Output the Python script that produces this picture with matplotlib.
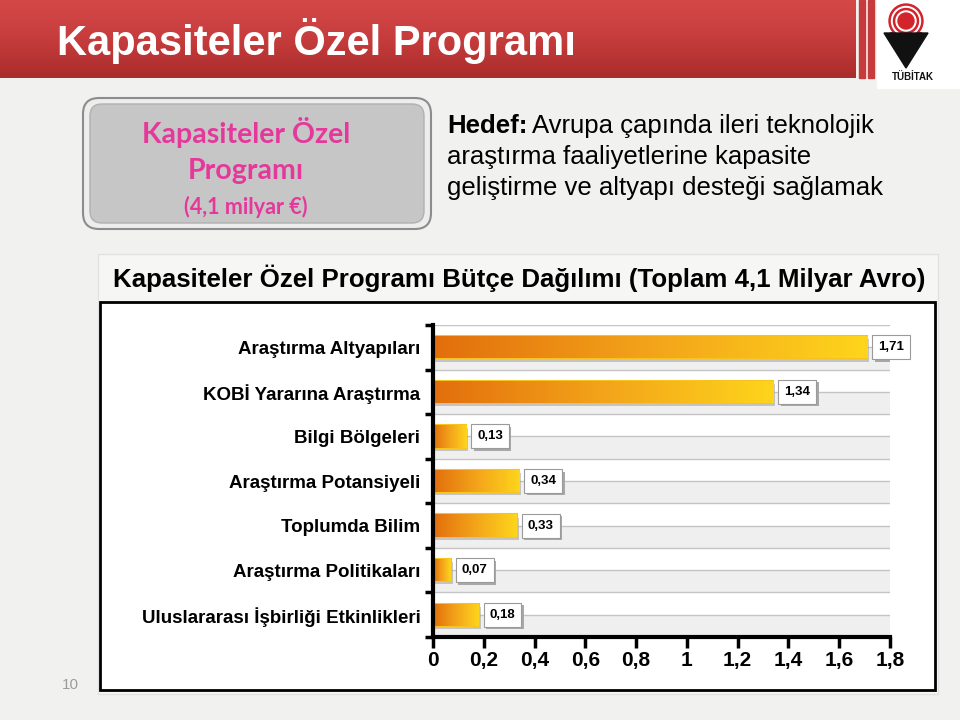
import numpy as np
import matplotlib
matplotlib.use('Agg')
import matplotlib.pyplot as plt
from matplotlib import font_manager
from matplotlib.patches import Rectangle, FancyBboxPatch, Circle, Polygon
from matplotlib.colors import LinearSegmentedColormap
from matplotlib.transforms import IdentityTransform

# veriler
categories = ['Araştırma Altyapıları', 'KOBİ Yararına Araştırma', 'Bilgi Bölgeleri',
              'Araştırma Potansiyeli', 'Toplumda Bilim', 'Araştırma Politikaları',
              'Uluslararası İşbirliği Etkinlikleri']
values = [1.71, 1.34, 0.13, 0.34, 0.33, 0.07, 0.18]
xticks = [0, 0.2, 0.4, 0.6, 0.8, 1.0, 1.2, 1.4, 1.6, 1.8]
xtick_labels = ['0', '0,2', '0,4', '0,6', '0,8', '1', '1,2', '1,4', '1,6', '1,8']

names = {f.name for f in font_manager.fontManager.ttflist}
narrow = 'Liberation Sans Narrow' if 'Liberation Sans Narrow' in names else 'Liberation Sans'
arial = 'Liberation Sans'

fig = plt.figure(figsize=(9.6, 7.2), dpi=100)
fig.patch.set_facecolor('#f1f1ef')

# arka plan eksenleri (piksel koordinatlari)
bg = fig.add_axes([0, 0, 1, 1])
bg.set_xlim(0, 960)
bg.set_ylim(720, 0)
bg.axis('off')

# baslik bandi
grad = np.linspace(0, 1, 100).reshape(-1, 1)
red_cmap = LinearSegmentedColormap.from_list('r', ['#d54848', '#c63c3c', '#ab2c2c'])
bg.imshow(grad, cmap=red_cmap, extent=(0, 856, 78, 0), aspect='auto', zorder=1)
bg.add_patch(Rectangle((859, 0), 6, 78, color='#c63c3c', zorder=1))
bg.add_patch(Rectangle((868, 0), 6, 78, color='#c63c3c', zorder=1))
bg.add_patch(Rectangle((877, 0), 83, 88, color='white', zorder=1))
bg.text(57, 41, 'Kapasiteler Özel Programı', color='white', fontsize=30,
        fontweight='bold', family=arial, va='center', ha='left', zorder=2)

# logo
bg.add_patch(Polygon([(884, 33), (928, 33), (906, 68)], closed=True, color='#111111', zorder=2))
for r, c in [(17, '#d3232b'), (14.5, 'white'), (12.5, '#d3232b'), (10, 'white'), (8, '#d3232b')]:
    bg.add_patch(Circle((906, 21), r, color=c, zorder=3))
bg.add_patch(Polygon([(890, 33), (922, 33), (906, 50)], closed=True, color='#111111', zorder=4))
bg.text(913, 77, 'TÜBİTAK', fontsize=7, fontweight='bold', family=arial,
        ha='center', va='center', color='#111111', zorder=4)

# sol kutu
bg.add_patch(FancyBboxPatch((83, 98), 348, 131, boxstyle='round,pad=0,rounding_size=16',
                            fc='#ededed', ec='#8c8c8c', lw=1.5, zorder=2))
bg.add_patch(FancyBboxPatch((90, 104), 334, 119, boxstyle='round,pad=0,rounding_size=12',
                            fc='#c6c6c6', ec='#b0b0b0', lw=1, zorder=3))
pink = '#e5389b'
bg.text(246, 132, 'Kapasiteler Özel', color=pink, fontsize=20.5, fontweight='bold',
        family='Lato', ha='center', va='center', zorder=4)
bg.text(246, 171, 'Programı', color=pink, fontsize=20.5, fontweight='bold',
        family='Lato', ha='center', va='center', zorder=4)
bg.text(246, 207, '(4,1 milyar €)', color=pink, fontsize=15.5, fontweight='bold',
        family='Lato', ha='center', va='center', zorder=4)

# hedef metni
renderer = fig.canvas.get_renderer()
t = bg.text(447, 126, 'Hedef:', fontsize=18.5, fontweight='bold', family=arial,
            va='center', ha='left', zorder=4)
ext = t.get_window_extent(renderer)
x_after = ext.x1 + 5
bg.text(x_after, 126, 'Avrupa çapında ileri teknolojik', fontsize=18.5, family=arial,
        va='center', ha='left', zorder=4)
bg.text(447, 157, 'araştırma faaliyetlerine kapasite', fontsize=18.5, family=arial,
        va='center', ha='left', zorder=4)
bg.text(447, 188, 'geliştirme ve altyapı desteği sağlamak', fontsize=18.5, family=arial,
        va='center', ha='left', zorder=4)

# grafik cercevesi
bg.add_patch(Rectangle((98, 254), 840, 440, fc='#f6f6f5', ec='#e2e2e2', lw=1, zorder=1))
bg.add_patch(Rectangle((100, 302), 835, 388, fc='white', ec='black', lw=2, zorder=2))
bg.text(113, 278, 'Kapasiteler Özel Programı Bütçe Dağılımı (Toplam 4,1 Milyar Avro)',
        fontsize=18.6, fontweight='bold', family=arial, va='center', ha='left', zorder=3)

bg.text(70, 685, '10', fontsize=11, color='#9c9c9c', family=arial,
        ha='center', va='center', zorder=3)

# cubuk grafik
ax = fig.add_axes([433 / 960, 1 - 637 / 720, (890 - 433) / 960, (637 - 325) / 720])
ax.set_facecolor('none')
ypos = np.arange(len(categories))
ax.set_xlim(0, 1.8)
ax.set_ylim(len(categories) - 0.5, -0.5)

for i in ypos:
    ax.axhspan(i, i + 0.5, color='#efefef', zorder=0, lw=0)
for y in np.arange(-0.5, len(categories), 0.5):
    ax.plot([0, 1.8], [y, y], color='#c4c4c4', lw=1, zorder=1, solid_capstyle='butt')

bh = 0.5
ax.barh(ypos + 0.07, values, height=bh, left=0.008, color='#9a9a9a', alpha=0.5, zorder=2)
bars = ax.barh(ypos, values, height=bh, color='#f0a020', edgecolor='#f7c31c', lw=1.5, zorder=3)
bar_cmap = LinearSegmentedColormap.from_list('b', ['#e26e0c', '#f3a41a', '#fed51c'])
gx = np.linspace(0, 1, 256).reshape(1, -1)
for b, v, y in zip(bars, values, ypos):
    im = ax.imshow(gx, cmap=bar_cmap, extent=(0, v, y + bh / 2, y - bh / 2),
                   aspect='auto', zorder=3.5)
    im.set_clip_path(b)

labels = []
for v, y in zip(values, ypos):
    lbl = f'{v:.2f}'.replace('.', ',')
    a = ax.annotate(lbl, xy=(v, y), xytext=(8, 0), textcoords='offset points',
                    ha='left', va='center', fontsize=9.5, fontweight='bold', family=arial,
                    color='black', zorder=5,
                    bbox=dict(boxstyle='square,pad=0.45', fc='white', ec='#9a9a9a', lw=0.8))
    labels.append(a)

ax.set_yticks(ypos)
ax.set_yticklabels(categories, fontsize=13.5, fontweight='bold', family=narrow)
ax.set_yticks(np.arange(-0.5, len(categories), 1), minor=True)
ax.tick_params(axis='y', which='major', length=0, pad=9)
ax.tick_params(axis='y', which='minor', length=6, width=2.5, color='black')
ax.set_xticks(xticks)
ax.set_xticklabels(xtick_labels, fontsize=15, fontweight='bold', family=narrow)
ax.tick_params(axis='x', length=8, width=2.5, pad=2)

for s in ['top', 'right']:
    ax.spines[s].set_visible(False)
ax.spines['left'].set_linewidth(3)
ax.spines['bottom'].set_linewidth(3)
ax.spines['left'].set_zorder(6)
ax.spines['bottom'].set_zorder(6)

# etiket kutularina golge
fig.canvas.draw()
for a in labels:
    bb = a.get_bbox_patch().get_window_extent(fig.canvas.get_renderer())
    sh = Rectangle((bb.x0 + 2.5, bb.y0 - 2.5), bb.width, bb.height, transform=IdentityTransform(),
                   fc='#a8a8a8', ec='none', zorder=4)
    sh.set_figure(fig)
    ax.add_artist(sh)

fig.savefig('out.png', dpi=100, facecolor=fig.get_facecolor())
